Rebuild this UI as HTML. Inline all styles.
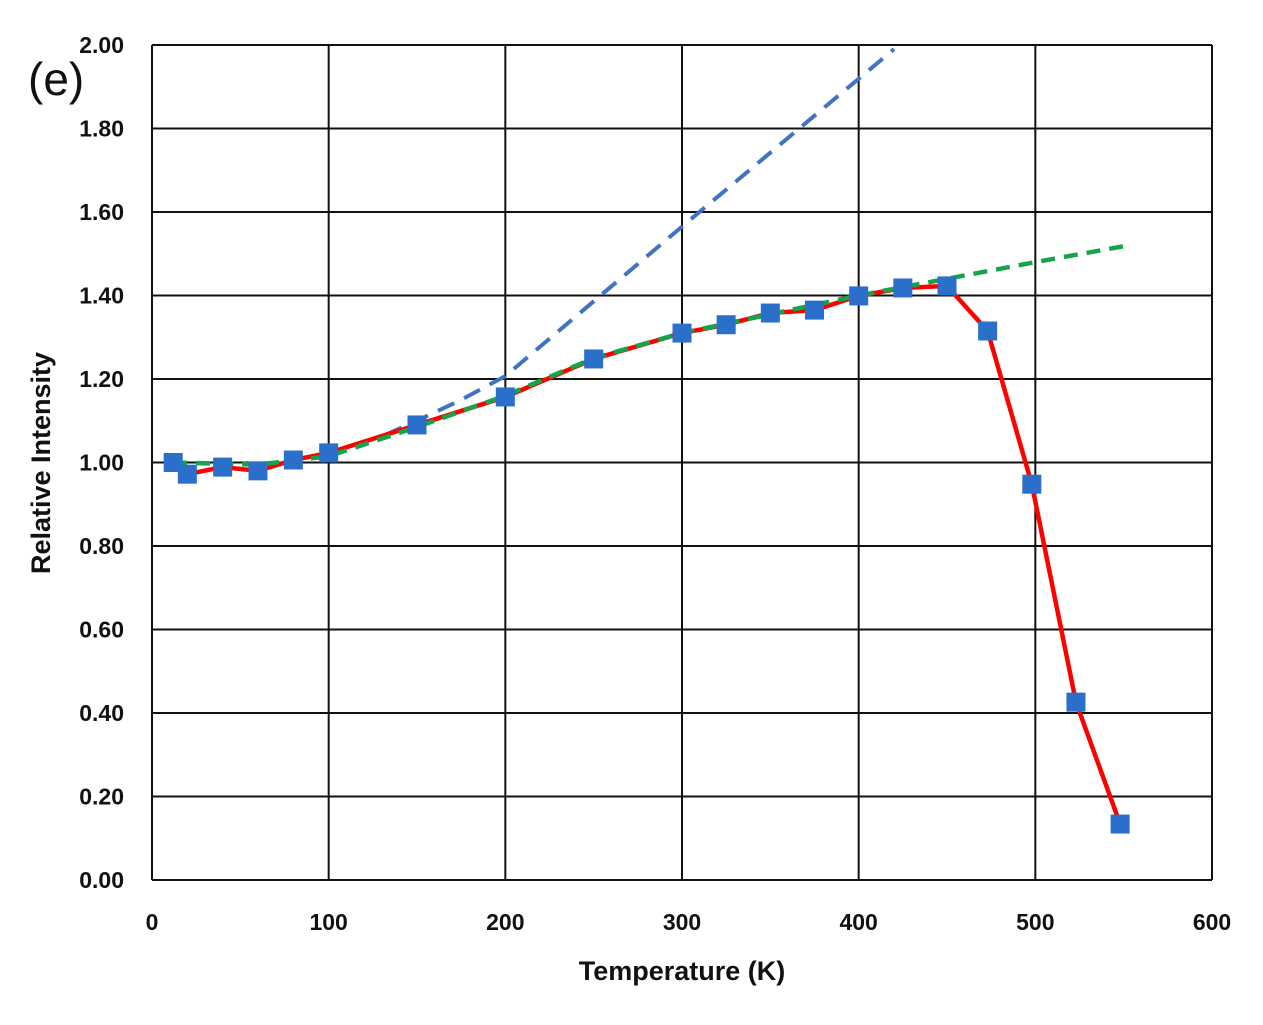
<!DOCTYPE html>
<html><head><meta charset="utf-8"><style>
html,body{margin:0;padding:0;background:#fff;}
svg text{font-family:"Liberation Sans",sans-serif;}
</style></head><body>
<svg id="chart" width="1263" height="1020" xmlns="http://www.w3.org/2000/svg">
<g id="grid"></g>
<g id="ticks"></g>
<g id="series"></g>
<text x="28" y="95" font-size="46" fill="#111">(e)</text>
<text x="682" y="980" font-size="27" font-weight="bold" text-anchor="middle" fill="#111">Temperature (K)</text>
<text transform="translate(50,463) rotate(-90)" font-size="27" font-weight="bold" text-anchor="middle" fill="#111">Relative Intensity</text>
</svg>
<script>
const xTicks=[0,100,200,300,400,500,600];
const yTicks=[0,0.2,0.4,0.6,0.8,1.0,1.2,1.4,1.6,1.8,2.0];
const temps=[12,20,40,60,80,100,150,200,250,300,325,350,375,400,425,450,473,498,523,548];
const intensity=[1.00,0.972,0.989,0.98,1.006,1.023,1.09,1.157,1.248,1.31,1.33,1.358,1.365,1.399,1.418,1.423,1.315,0.948,0.426,0.134];
const fitT=[12,60,100,150,200,250,300,350,400,450,500,550];
const fitV=[1.0,0.995,1.015,1.085,1.16,1.25,1.31,1.355,1.40,1.44,1.48,1.518];
const linT=[132,150,175,200,300,420];
const linV=[1.066,1.10,1.15,1.207,1.565,1.99];
const X=t=>152+t*(1060/600);
const Y=v=>880-v*417.5;
const NS='http://www.w3.org/2000/svg';
function mk(tag,attrs,parent){const e=document.createElementNS(NS,tag);for(const k in attrs)e.setAttribute(k,attrs[k]);parent.appendChild(e);return e;}
const grid=document.getElementById('grid'),ticks=document.getElementById('ticks'),series=document.getElementById('series');
xTicks.forEach(t=>{
 const l=mk('line',{x1:X(t),x2:X(t),y1:Y(0),y2:Y(2),stroke:'#111','stroke-width':2},grid);
 
 
 const tx=mk('text',{x:X(t),y:930,'font-size':23,'font-weight':'bold','text-anchor':'middle',fill:'#111'},ticks);
 tx.textContent=t;
 
 
});
yTicks.forEach(v=>{
 const l=mk('line',{x1:X(0),x2:X(600),y1:Y(v),y2:Y(v),stroke:'#111','stroke-width':2},grid);
 
 
 const tx=mk('text',{x:124,y:Y(v)+8,'font-size':23,'font-weight':'bold','text-anchor':'end',fill:'#111'},ticks);
 tx.textContent=v.toFixed(2);
 
 
});
const pts=(ts,vs)=>ts.map((t,i)=>X(t)+','+Y(vs[i])).join(' ');
const blue=mk('polyline',{points:pts(linT,linV),fill:'none',stroke:'#3f74c4','stroke-width':4,'stroke-dasharray':'18,11'},series);


const red=mk('polyline',{points:pts(temps,intensity),fill:'none',stroke:'#ff0000','stroke-width':4.5,'stroke-linejoin':'round'},series);


const green=mk('polyline',{points:pts(fitT,fitV),fill:'none',stroke:'#16a44a','stroke-width':4.5,'stroke-dasharray':'14,9'},series);


temps.forEach((t,i)=>{
 const r=mk('rect',{x:X(t)-9.5,y:Y(intensity[i])-9.5,width:19,height:19,fill:'#2a6fc9'},series);
 
 
});
</script>
</body></html>
